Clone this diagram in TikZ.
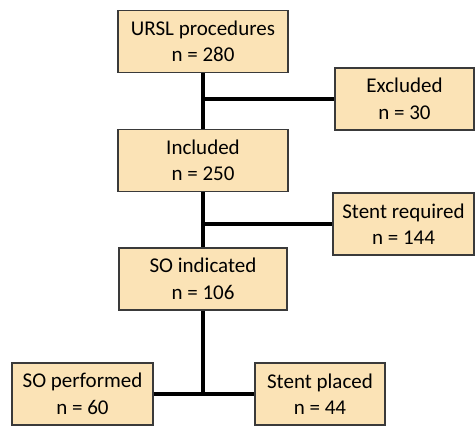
\documentclass[tikz,border=0pt]{standalone}
\usepackage{fontspec}
\setmainfont{Carlito}
\definecolor{boxfill}{HTML}{FBE3B6}
\definecolor{boxline}{HTML}{3A3A3A}
\begin{document}
\begin{tikzpicture}[x=1pt,y=-1pt,
  box/.style={draw=boxline,line width=1.3pt,fill=boxfill,inner sep=0pt,align=center,
    font=\fontsize{21}{26.5}\selectfont,minimum height=62pt},
  conn/.style={line width=4pt,black}]
\useasboundingbox (0,0) rectangle (476,428);
\node[box,minimum width=170pt] (ursl) at (203,41.5) {URSL procedures\\n = 280};
\node[box,minimum width=139pt] (excl) at (404.5,99) {Excluded\\n = 30};
\node[box,minimum width=170pt] (incl) at (203,160.5) {Included\\n = 250};
\node[box,minimum width=141pt] (streq) at (403.5,224) {Stent required\\n = 144};
\node[box,minimum width=168pt] (soind) at (203,279) {SO indicated\\n = 106};
\node[box,minimum width=141pt] (soperf) at (82.5,394) {SO performed\\n = 60};
\node[box,minimum width=130pt] (stpl) at (320,394) {Stent placed\\n = 44};
\coordinate (j1) at (ursl.south |- excl.west);
\coordinate (j2) at (incl.south |- streq.west);
\coordinate (j3) at (soind.south |- soperf.east);
\draw[conn] (ursl.south) -- (incl.north);
\draw[conn] (j1) -- (excl.west);
\draw[conn] (incl.south) -- (soind.north);
\draw[conn] (j2) -- (streq.west);
\draw[conn] (soind.south) -- (j3);
\draw[conn] (soperf.east) -- (stpl.west);
\end{tikzpicture}
\end{document}
